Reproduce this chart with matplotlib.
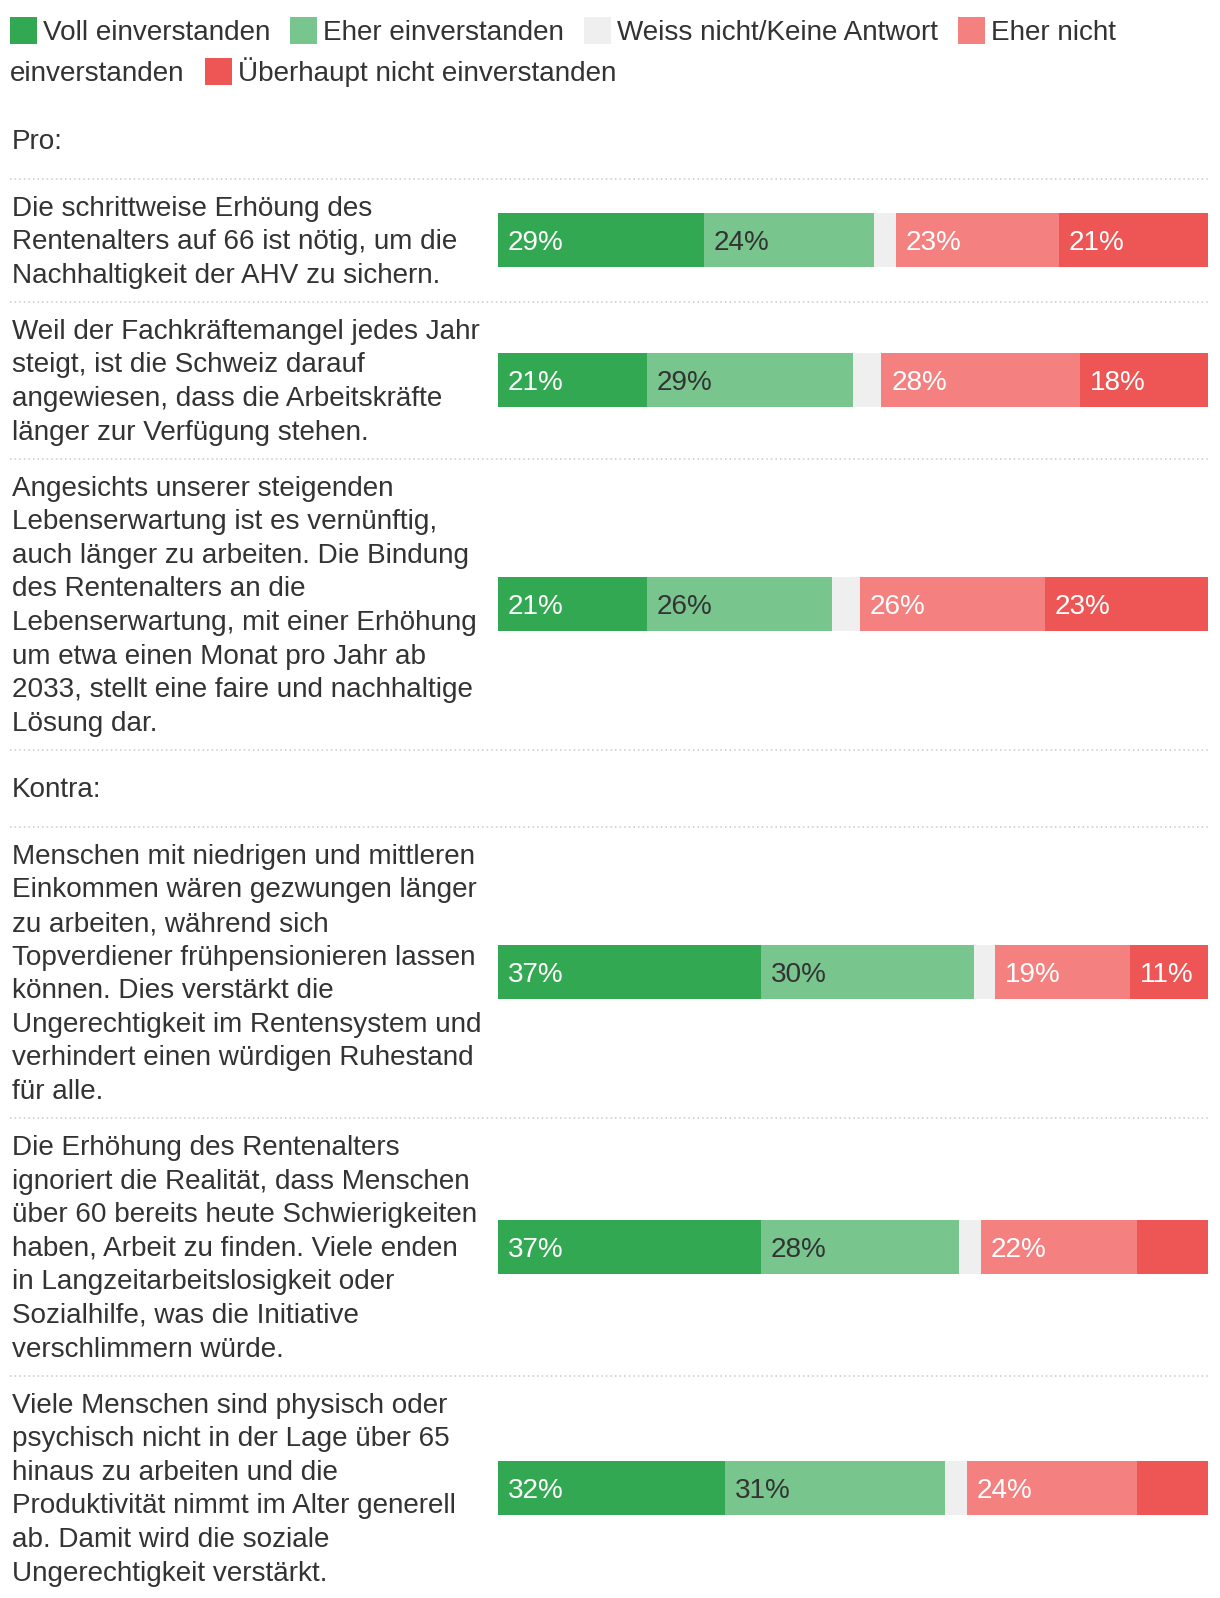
import matplotlib.pyplot as plt
from matplotlib.patches import Rectangle

plt.rcParams['font.family'] = ['Liberation Sans', 'DejaVu Sans']

# ---------------------------------------------------------------------------
# Data
# ---------------------------------------------------------------------------

categories = ["Voll einverstanden", "Eher einverstanden",
              "Weiss nicht/Keine Antwort", "Eher nicht einverstanden",
              "Überhaupt nicht einverstanden"]
colours = ["#33a852", "#78c58e", "#efefef", "#f58080", "#ee5555"]
label_colours = ["white", "#333333", None, "white", "white"]

pro_statements = [
    "Die schrittweise Erhöung des\nRentenalters auf 66 ist nötig, um die\n"
    "Nachhaltigkeit der AHV zu sichern.",
    "Weil der Fachkräftemangel jedes Jahr\nsteigt, ist die Schweiz darauf\n"
    "angewiesen, dass die Arbeitskräfte\nlänger zur Verfügung stehen.",
    "Angesichts unserer steigenden\nLebenserwartung ist es vernünftig,\n"
    "auch länger zu arbeiten. Die Bindung\ndes Rentenalters an die\n"
    "Lebenserwartung, mit einer Erhöhung\num etwa einen Monat pro Jahr ab\n"
    "2033, stellt eine faire und nachhaltige\nLösung dar.",
]
pro_values = [
    [29, 24, 3, 23, 21],
    [21, 29, 4, 28, 18],
    [21, 26, 4, 26, 23],
]

kontra_statements = [
    "Menschen mit niedrigen und mittleren\nEinkommen wären gezwungen länger\n"
    "zu arbeiten, während sich\nTopverdiener frühpensionieren lassen\n"
    "können. Dies verstärkt die\nUngerechtigkeit im Rentensystem und\n"
    "verhindert einen würdigen Ruhestand\nfür alle.",
    "Die Erhöhung des Rentenalters\nignoriert die Realität, dass Menschen\n"
    "über 60 bereits heute Schwierigkeiten\nhaben, Arbeit zu finden. Viele enden\n"
    "in Langzeitarbeitslosigkeit oder\nSozialhilfe, was die Initiative\n"
    "verschlimmern würde.",
    "Viele Menschen sind physisch oder\npsychisch nicht in der Lage über 65\n"
    "hinaus zu arbeiten und die\nProduktivität nimmt im Alter generell\n"
    "ab. Damit wird die soziale\nUngerechtigkeit verstärkt.",
]
kontra_values = [
    [37, 30, 3, 19, 11],
    [37, 28, 3, 22, 10],
    [32, 31, 3, 24, 10],
]

sections = [("Pro:", pro_statements, pro_values),
            ("Kontra:", kontra_statements, kontra_values)]

# ---------------------------------------------------------------------------
# Layout (pixels)
# ---------------------------------------------------------------------------

W, H = 1220, 1598
FS = 20.1
TEXT = "#333333"
LINE = 33.6
PAD = 28
BASE = 9.0          # baseline offset from visual line centre
BAR_H = 54
BAR_X0, BAR_X1 = 498, 1208
LEFT = 12

fig = plt.figure(figsize=(W / 100, H / 100), dpi=100)
ax = fig.add_axes([0, 0, 1, 1])
ax.set_xlim(0, W)
ax.set_ylim(H, 0)
ax.axis("off")

bx = fig.add_axes([BAR_X0 / W, 0, (BAR_X1 - BAR_X0) / W, 1])
bx.set_xlim(0, 100)
bx.set_ylim(H, 0)
bx.axis("off")

renderer = fig.canvas.get_renderer()


def text_width(t):
    return t.get_window_extent(renderer=renderer).width


# legend (flow layout, wraps like the web version)
legend_rows = [
    [(0, "Voll einverstanden"), (1, "Eher einverstanden"),
     (2, "Weiss nicht/Keine Antwort"), (3, "Eher nicht")],
    [(None, "einverstanden"), (4, "Überhaupt nicht einverstanden")],
]
legend_y = [30.6, 71.3]
SQ = 27
for row, y in zip(legend_rows, legend_y):
    x = 10
    for idx, label in row:
        if idx is not None:
            ax.add_patch(Rectangle((x, y - SQ / 2), SQ, SQ, color=colours[idx], lw=0))
            x += SQ + 6
        t = ax.text(x, y + 9.5, label, fontsize=FS, color=TEXT, va="baseline")
        x += text_width(t) + 20


def separator(y):
    ax.plot([10, BAR_X1], [y, y], color="#c8c8c8", lw=1.1,
            linestyle=(0, (1, 2)), solid_capstyle="butt")


y = 139.6
for title, statements, values in sections:
    ax.text(LEFT, y + BASE, title, fontsize=FS, color=TEXT, va="baseline")
    sep = y + 39
    separator(sep)
    for statement, vals in zip(statements, values):
        lines = statement.split("\n")
        first = sep + PAD
        for i, line in enumerate(lines):
            ax.text(LEFT, first + i * LINE + BASE, line, fontsize=FS,
                    color=TEXT, va="baseline")
        last = first + (len(lines) - 1) * LINE
        centre = (first + last) / 2
        left = 0
        for k, v in enumerate(vals):
            bx.barh(centre, v, left=left, height=BAR_H, color=colours[k], lw=0)
            if label_colours[k] is not None and v > 10:
                bx.annotate(f"{v}%", xy=(left, centre), xytext=(7.2, 0),
                            textcoords="offset points", fontsize=FS,
                            color=label_colours[k], va="center_baseline",
                            ha="left")
            left += v
        sep = last + PAD
        separator(sep)
    y = sep + 38

fig.savefig("out.png", dpi=100)
